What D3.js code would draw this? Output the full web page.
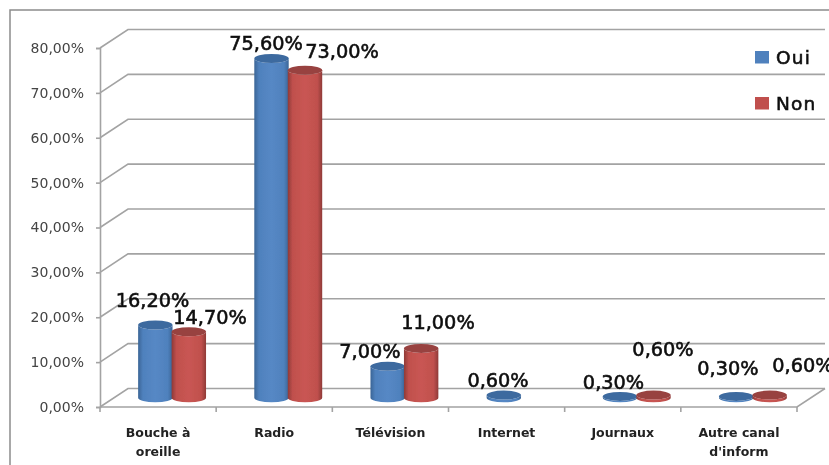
<!DOCTYPE html>
<html><head><meta charset="utf-8">
<script src="https://cdn.jsdelivr.net/npm/d3@7/dist/d3.min.js"></script>
<style>html,body{margin:0;padding:0;background:#fff;overflow:hidden}svg{display:block}</style>
</head><body><svg id="c" width="829" height="465"></svg>
<script>
const categories = ["Bouche à|oreille","Radio","Télévision","Internet","Journaux","Autre canal|d'inform"];
const seriesNames = ["Oui","Non"];
const oui = [16.2,75.6,7.0,0.6,0.3,0.3];
const non = [14.7,73.0,11.0,null,0.6,0.6];
const yTicks = [0,10,20,30,40,50,60,70,80];
// hand-placed label anchors in the source chart: [dx from column centre, dy from column top]
const labelShiftOui = [[-2.8,-18],[-5.5,-8.5],[-17.7,-8.3],[-5.8,-8],[-6.5,-7.4],[-8.2,-21.4]];
const labelShiftNon = [[21.2,-7.8],[37,-12.2],[16.8,-19.3],[0,0],[9.5,-39],[33.3,-23]];

const fmt = v => v.toFixed(2).replace(".",",")+"%";
const svg = d3.select("#c");
const W=829,H=465, L=100,R=797,T=48,B=407, DX=28,DY=-18.5;
const x = d3.scaleBand().domain(categories).range([L,R]);
const inner = d3.scaleBand().domain(seriesNames).range([-33.5,33.5]);
const y = d3.scaleLinear().domain([0,80]).range([B,T]);
const colors = {Oui:["#3a6596","#4f81bd","#5688c5","#3d6a9f"],Non:["#8f3a37","#c0504d","#c95653","#984240"]};
const gridC="#a3a3a3";

const defs = svg.append("defs");
const soft = defs.append("filter").attr("id","soft").attr("x","-5%").attr("y","-5%").attr("width","110%").attr("height","110%");
soft.append("feGaussianBlur").attr("stdDeviation",0.45);
seriesNames.forEach(s=>{
  const g=defs.append("linearGradient").attr("id","g"+s);
  [[0,colors[s][0]],[0.14,colors[s][1]],[0.5,colors[s][2]],[0.86,colors[s][1]],[1,colors[s][0]]]
   .forEach(([o,c])=>g.append("stop").attr("offset",o).attr("stop-color",c));
});
const root = svg.append("g").attr("filter","url(#soft)");

// outer frame (left and top edges only are visible)
root.append("path").attr("d",`M10,${H}V10H${W}`).attr("fill","none").attr("stroke","#8c8c8c").attr("stroke-width",1.5);

// walls
const grid=root.append("g").attr("fill","none").attr("stroke",gridC).attr("stroke-width",1.6);
yTicks.forEach(t=>{
  grid.append("path").attr("d",`M${L},${y(t)}l${DX},${DY}H${R+DX}`);
});
grid.append("path").attr("d",`M${L},${B}H${R}l${DX},${DY}`);

// axes
const ya=d3.axisLeft(y).tickValues(yTicks).tickFormat(fmt).tickSize(4).tickPadding(12);
const yg=root.append("g").attr("transform",`translate(${L},0)`).call(ya);
yg.selectAll("text").attr("font-family","DejaVu Sans").attr("font-size",14).attr("fill","#444");
yg.selectAll("line,path").attr("stroke",gridC).attr("stroke-width",1.6);
root.append("g").attr("stroke",gridC).attr("stroke-width",1.6).selectAll("line")
  .data(d3.range(categories.length+1)).join("line")
  .attr("x1",i=>x.range()[0]+i*x.step()).attr("x2",i=>x.range()[0]+i*x.step()).attr("y1",B).attr("y2",B+5);

// category labels
const cat=root.append("g").attr("font-family","DejaVu Sans").attr("font-weight","bold").attr("font-size",12.5).attr("fill","#222").attr("text-anchor","middle");
categories.forEach(c=>{
  c.split("|").forEach((ln,i)=>cat.append("text").attr("x",x(c)+x.bandwidth()/2).attr("y",437+i*19).text(ln));
});

// cylinders
const rx=17.2, ry=4.5;
const cx=(c,s)=>x(c)+x.bandwidth()/2+DX/2+inner(s)+inner.bandwidth()/2;
const base=v=>y(v)+DY/2;
const rows=[];
seriesNames.forEach((s,k)=>{
  const vals=k?non:oui;
  categories.forEach((c,i)=>{ if(vals[i]!=null) rows.push({s,c,v:vals[i],i}); });
});
const bars=root.append("g").selectAll("g").data(rows).join("g");
bars.append("path").attr("fill",d=>`url(#g${d.s})`).attr("d",d=>{
  const X=cx(d.c,d.s), t=base(d.v), b=base(0);
  return `M${X-rx},${t}V${b}A${rx},${ry} 0 0 0 ${X+rx},${b}V${t}A${rx},${ry} 0 0 1 ${X-rx},${t}Z`;
});
bars.append("ellipse").attr("cx",d=>cx(d.c,d.s)).attr("cy",d=>base(d.v)).attr("rx",rx).attr("ry",ry).attr("fill",d=>colors[d.s][3]);

// data labels
root.append("g").attr("font-family","DejaVu Sans").attr("font-size",19.3).attr("fill","#111").attr("stroke","#111").attr("stroke-width",0.6).attr("text-anchor","middle")
 .selectAll("text").data(rows).join("text")
 .attr("x",d=>cx(d.c,d.s)+(d.s==="Oui"?labelShiftOui:labelShiftNon)[d.i][0])
 .attr("y",d=>base(d.v)+(d.s==="Oui"?labelShiftOui:labelShiftNon)[d.i][1])
 .text(d=>fmt(d.v));

// legend
const leg=root.append("g").selectAll("g").data(seriesNames).join("g").attr("transform",(d,i)=>`translate(755,${51+i*46})`);
leg.append("rect").attr("width",14).attr("height",12.5).attr("fill",d=>colors[d][1]);
leg.append("text").attr("x",21).attr("y",12.5).attr("font-family","DejaVu Sans").attr("font-size",18.5).attr("letter-spacing",1.2).attr("fill","#111").attr("stroke","#111").attr("stroke-width",0.6).text(d=>d);
</script></body></html>
